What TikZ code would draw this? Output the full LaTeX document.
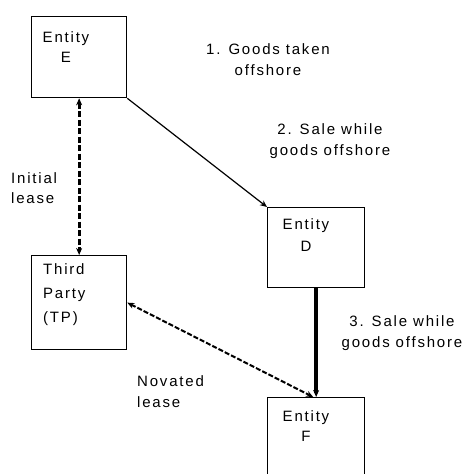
\documentclass[tikz,border=0pt]{standalone}
\usepackage{fontspec}
\setmainfont{Liberation Sans}[LetterSpace=12]
\usetikzlibrary{arrows.meta}
\tikzset{
  box/.style={draw, line width=1.3pt, rectangle, anchor=north west, inner sep=0pt},
  lbl/.style={inner sep=0pt, anchor=north, align=center, font=\fontsize{15}{21}\selectfont},
  lbll/.style={inner sep=0pt, anchor=north west, align=left, font=\fontsize{15}{21}\selectfont},
  tip/.style={-{Stealth[length=7pt,width=6pt]}},
  dtip/.style={{Stealth[length=7pt,width=6pt]}-{Stealth[length=7pt,width=6pt]}},
}
\begin{document}
\begin{tikzpicture}[x=1pt,y=-1pt]
\useasboundingbox (0,0) rectangle (467,474);
\clip (0,0) rectangle (467,474);
% boxes
\node[box, minimum width=95pt, minimum height=81pt] (E) at (31,16) {};
\node[box, minimum width=95pt, minimum height=94pt] (TP) at (31,255) {};
\node[box, minimum width=97pt, minimum height=80pt] (D) at (267,207) {};
\node[box, minimum width=97pt, minimum height=100pt] (F) at (267,397) {};
% box texts
\node[lbl, font=\fontsize{15}{20}\selectfont] (Et) at (66,31) {Entity\\E};
\node[lbll, font=\fontsize{15}{24}\selectfont] (TPt) at (43,263) {Third\\Party\\(TP)};
\node[lbl, font=\fontsize{15}{22}\selectfont] (Dt) at (306,218) {Entity\\D};
\node[lbl, font=\fontsize{15}{20}\selectfont] (Ft) at (306,410) {Entity\\F};
% labels
\node[lbl] (l1) at (268,43) {1. Goods taken\\offshore};
\node[lbl] (l2) at (330,123) {2. Sale while\\goods offshore};
\node[lbl] (l3) at (402,315) {3. Sale while\\goods offshore};
\node[lbll, font=\fontsize{15}{20}\selectfont] (li) at (11,172) {Initial\\lease};
\node[lbll] (ln) at (137,375) {Novated\\lease};
% connectors
\draw[tip, line width=1.2pt] (E.south east) -- (D.north west);
\draw[dtip, line width=3pt, dash pattern=on 6pt off 2.5pt] (E.south) -- (TP.north);
\draw[tip, line width=4pt] (D.south) -- (F.north);
\draw[dtip, line width=2pt, dash pattern=on 5pt off 2pt] (TP.east) -- ([xshift=-3pt]F.north);
\end{tikzpicture}
\end{document}
